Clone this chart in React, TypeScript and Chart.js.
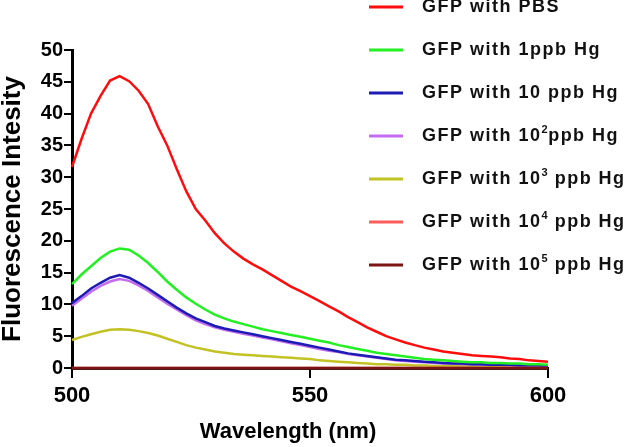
import React, { useEffect, useRef } from "react";
import { Chart, registerables } from "chart.js";
Chart.register(...registerables);

const FONT = '"Liberation Sans", Arial, Helvetica, sans-serif';

const wavelengths = [
  500, 502, 504, 506, 508, 510, 512, 514, 516, 518,
  520, 522, 524, 526, 528, 530, 532, 534, 536, 538,
  540, 542, 544, 546, 548, 550, 552, 554, 556, 558,
  560, 562, 564, 566, 568, 570, 572, 574, 576, 578,
  580, 582, 584, 586, 588, 590, 592, 594, 596, 598, 600,
];

const pbs = [
  31.6, 36.0, 40.0, 42.8, 45.2, 45.9, 45.1, 43.6, 41.5, 38.0,
  35.0, 31.3, 27.8, 25.0, 23.2, 21.2, 19.6, 18.3, 17.2, 16.3,
  15.5, 14.6, 13.7, 12.8, 12.1, 11.3, 10.5, 9.7, 8.9, 8.0,
  7.2, 6.4, 5.7, 5.0, 4.5, 4.0, 3.6, 3.2, 2.9, 2.6,
  2.4, 2.2, 2.0, 1.9, 1.8, 1.7, 1.5, 1.4, 1.2, 1.1, 1.0,
];

const hg1 = [
  13.2, 14.7, 16.0, 17.3, 18.3, 18.8, 18.6, 17.7, 16.5, 15.1,
  13.6, 12.3, 11.1, 10.1, 9.2, 8.4, 7.8, 7.3, 6.9, 6.5,
  6.1, 5.8, 5.5, 5.2, 4.9, 4.6, 4.3, 4.0, 3.6, 3.3,
  3.0, 2.7, 2.4, 2.2, 2.0, 1.8, 1.6, 1.4, 1.3, 1.2,
  1.1, 1.0, 0.9, 0.9, 0.8, 0.8, 0.7, 0.7, 0.6, 0.6, 0.5,
];

const hg10 = [
  10.2, 11.3, 12.5, 13.4, 14.2, 14.6, 14.2, 13.4, 12.5, 11.5,
  10.5, 9.5, 8.6, 7.8, 7.2, 6.6, 6.2, 5.9, 5.6, 5.3,
  5.0, 4.7, 4.4, 4.1, 3.8, 3.5, 3.2, 2.9, 2.6, 2.3,
  2.1, 1.9, 1.7, 1.5, 1.3, 1.2, 1.1, 1.0, 0.9, 0.8,
  0.7, 0.7, 0.6, 0.6, 0.5, 0.5, 0.5, 0.4, 0.4, 0.4, 0.3,
];

const hg100 = [
  9.8, 10.9, 12.0, 12.9, 13.6, 14.0, 13.7, 13.0, 12.1, 11.1,
  10.1, 9.2, 8.3, 7.5, 6.9, 6.4, 6.0, 5.7, 5.4, 5.1,
  4.8, 4.5, 4.2, 3.9, 3.6, 3.3, 3.0, 2.7, 2.5, 2.2,
  2.0, 1.8, 1.6, 1.4, 1.2, 1.1, 1.0, 0.9, 0.8, 0.7,
  0.7, 0.6, 0.6, 0.5, 0.5, 0.5, 0.4, 0.4, 0.4, 0.3, 0.3,
];

const hg1000 = [
  4.4, 4.9, 5.3, 5.7, 6.0, 6.1, 6.0, 5.8, 5.5, 5.1,
  4.6, 4.1, 3.6, 3.2, 2.9, 2.6, 2.4, 2.2, 2.1, 2.0,
  1.9, 1.8, 1.7, 1.6, 1.5, 1.4, 1.2, 1.1, 1.0, 0.9,
  0.8, 0.7, 0.6, 0.6, 0.5, 0.5, 0.4, 0.4, 0.3, 0.3,
  0.3, 0.3, 0.3, 0.2, 0.2, 0.2, 0.2, 0.2, 0.2, 0.2, 0.2,
];

const hg10000 = [
  0, 0, 0, 0, 0, 0, 0, 0, 0, 0,
  0, 0, 0, 0, 0, 0, 0, 0, 0, 0,
  0, 0, 0, 0, 0, 0, 0, 0, 0, 0,
  0, 0, 0, 0, 0, 0, 0, 0, 0, 0,
  0, 0, 0, 0, 0, 0, 0, 0, 0, 0, 0,
];

const hg100000 = [
  0, 0, 0, 0, 0, 0, 0, 0, 0, 0,
  0, 0, 0, 0, 0, 0, 0, 0, 0, 0,
  0, 0, 0, 0, 0, 0, 0, 0, 0, 0,
  0, 0, 0, 0, 0, 0, 0, 0, 0, 0,
  0, 0, 0, 0, 0, 0, 0, 0, 0, 0, 0,
];

const seriesLabels = [
  "GFP with PBS",
  "GFP with 1ppb Hg",
  "GFP with 10 ppb Hg",
  "GFP with 10²ppb Hg",
  "GFP with 10³ ppb Hg",
  "GFP with 10⁴ ppb Hg",
  "GFP with 10⁵ ppb Hg",
];
const seriesValues = [pbs, hg1, hg10, hg100, hg1000, hg10000, hg100000];
const seriesColors = ["#ff0d0d", "#22f022", "#1c1cb4", "#c46cf0", "#c2c224", "#ff5c5c", "#7d1414"];
const seriesOrder = [2, 3, 4, 5, 6, 1, 0];

const xTitle = "Wavelength (nm)";
const yTitle = "Fluorescence Intesity";

const SUP: Record<string, string> = { "²": "2", "³": "3", "⁴": "4", "⁵": "5" };

const legendPlugin = {
  id: "customLegend",
  afterDraw(chart: any) {
    const ctx = chart.ctx as CanvasRenderingContext2D;
    ctx.save();
    chart.data.datasets.forEach((ds: any, i: number) => {
      const y = 7 + i * 43;
      ctx.strokeStyle = ds.borderColor;
      ctx.lineWidth = 3;
      ctx.beginPath();
      ctx.moveTo(369, y);
      ctx.lineTo(403, y);
      ctx.stroke();
      let x = 422;
      ctx.fillStyle = "#111";
      ctx.textBaseline = "middle";
      ctx.textAlign = "left";
      for (const ch of Array.from(ds.label as string)) {
        if (SUP[ch]) {
          ctx.font = `bold 11px ${FONT}`;
          ctx.fillText(SUP[ch], x, y - 6);
          x += ctx.measureText(SUP[ch]).width + 0.5;
        } else {
          ctx.font = `bold 18px ${FONT}`;
          ctx.fillText(ch, x, y);
          x += ctx.measureText(ch).width + 1.5;
        }
      }
    });
    // x axis title
    ctx.font = `bold 22px ${FONT}`;
    ctx.fillStyle = "#000";
    ctx.textAlign = "center";
    ctx.textBaseline = "middle";
    ctx.fillText(xTitle, 288, 432);
    ctx.restore();
  },
};

export default function App() {
  const ref = useRef<HTMLCanvasElement>(null);
  useEffect(() => {
    if (!ref.current) return;
    const chart = new Chart(ref.current, {
      type: "line",
      data: {
        datasets: seriesLabels.map((label, i) => ({
          label,
          data: wavelengths.map((w, j) => ({ x: w, y: seriesValues[i][j] })),
          borderColor: seriesColors[i],
          backgroundColor: seriesColors[i],
          borderWidth: 2.5,
          pointRadius: 0,
          tension: 0,
          fill: false,
          clip: false as any,
          order: seriesOrder[i],
        })),
      },
      options: {
        responsive: false,
        animation: false,
        layout: { padding: { left: 0, right: 77, top: 50, bottom: 0 } },
        plugins: { legend: { display: false }, tooltip: { enabled: false } },
        scales: {
          x: {
            type: "linear",
            min: 500,
            max: 600,
            afterFit: (s: any) => { s.height = 79; },
            ticks: {
              stepSize: 50,
              font: { family: FONT, size: 22, weight: "bold" },
              color: "#000",
              padding: 5,
              maxRotation: 0,
            },
            grid: { drawOnChartArea: false, drawTicks: true, tickLength: 10, color: "#000", lineWidth: 2 },
            border: { display: true, color: "#000", width: 3 },
            title: { display: false, text: xTitle },
          },
          y: {
            min: 0,
            max: 50,
            afterFit: (s: any) => { s.width = 72; },
            ticks: {
              stepSize: 5,
              font: { family: FONT, size: 20, weight: "bold" },
              color: "#000",
              padding: 1,
            },
            grid: { drawOnChartArea: false, drawTicks: true, tickLength: 8, color: "#000", lineWidth: 2 },
            border: { display: true, color: "#000", width: 3 },
            title: {
              display: true,
              text: yTitle,
              font: { family: FONT, size: 26, weight: "bold" },
              color: "#000",
              padding: { top: -3, bottom: 0 },
            },
          },
        },
      },
      plugins: [legendPlugin],
    } as any);
    return () => chart.destroy();
  }, []);
  return (
    <div style={{ position: "absolute", left: 0, top: 0, width: 625, height: 447, background: "#fff" }}>
      <canvas ref={ref} width={625} height={447} style={{ display: "block" }} />
    </div>
  );
}
